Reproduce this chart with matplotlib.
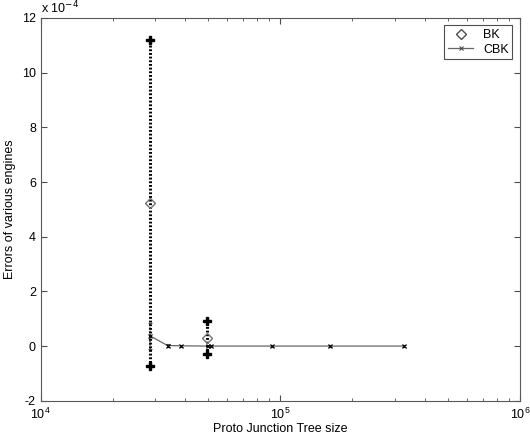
import numpy as np
import matplotlib
matplotlib.use('Agg')
from matplotlib import pyplot as plt
from matplotlib.lines import Line2D
from matplotlib.ticker import FixedLocator, FuncFormatter, LogLocator, NullFormatter

plt.rcParams['font.family'] = ['Liberation Sans', 'DejaVu Sans']

# Proto junction tree sizes and errors (in units of 1e-4)
bk_size = [28500, 49600]
bk_err = [5.23, 0.30]
bk_std = [5.97, 0.60]

cbk_size = [28500, 33800, 38300, 49900, 51500, 92500, 161000, 328000]
cbk_err = [0.38, 0.02, 0.01, 0.0, 0.0, 0.0, 0.0, 0.0]
cbk_std = [0.47, 0.04, 0.03, 0.03, 0.03, 0.03, 0.03, 0.03]

scale = 1e-4

fig = plt.figure(figsize=(5.3, 4.38), dpi=100)
ax = fig.add_axes([0.077, 0.085, 0.904, 0.874])

# BK: diamonds with thick dotted error bars
eb = ax.errorbar(bk_size, np.array(bk_err)*scale, yerr=np.array(bk_std)*scale,
                 fmt='D', mfc='none', mec='0.45', ms=5.5, ecolor='k',
                 elinewidth=2.2, capsize=0, zorder=3)
eb[2][0].set_linestyle((0, (0.6, 0.6)))
ax.plot(bk_size, (np.array(bk_err) + np.array(bk_std))*scale, 'P', color='k', ms=6, zorder=4)
ax.plot(bk_size, (np.array(bk_err) - np.array(bk_std))*scale, 'P', color='k', ms=6, zorder=4)

# CBK: line with x markers and small error bars
eb2 = ax.errorbar(cbk_size, np.array(cbk_err)*scale, yerr=np.array(cbk_std)*scale,
                  fmt='-x', color='0.4', mec='k', ms=3.5, mew=0.8, lw=0.9,
                  ecolor='0.3', elinewidth=1.2, capsize=1.5, zorder=2)
eb2[2][0].set_linestyle((0, (1, 1)))

ax.set_xscale('log')
ax.set_xlim(1e4, 1e6)
ax.set_ylim(-2*scale, 12*scale)
ax.yaxis.set_major_locator(FixedLocator(np.arange(-2, 13, 2)*scale))
ax.yaxis.set_major_formatter(FuncFormatter(lambda v, p: '%g' % round(v/scale, 6)))
ax.xaxis.set_minor_locator(LogLocator(base=10, subs=np.arange(2, 10)))
ax.xaxis.set_minor_formatter(NullFormatter())

ax.tick_params(which='both', direction='in', top=True, right=True, labelsize=9, color='0.3')
ax.tick_params(which='major', length=4)
ax.tick_params(which='minor', length=2)
ax.tick_params(axis='x', pad=4)
for s in ax.spines.values():
    s.set_color('0.35')
    s.set_linewidth(0.8)

ax.text(0.0, 1.005, r'x 10$^{-4}$', transform=ax.transAxes, fontsize=9, va='bottom', ha='left')

ax.set_xlabel('Proto Junction Tree size', fontsize=9, labelpad=1)
ax.set_ylabel('Errors of various engines', fontsize=9, labelpad=4)

handles = [Line2D([], [], ls='none', marker='D', mfc='none', mec='0.3', ms=5.5),
           Line2D([], [], color='0.4', lw=0.9, marker='x', mec='0.3', ms=3.5, mew=0.8)]
leg = ax.legend(handles, ['BK', 'CBK'], loc='upper right', fontsize=9, fancybox=False,
                framealpha=1, edgecolor='0.3', handlelength=2.0, borderaxespad=0.6,
                labelspacing=0.2, borderpad=0.3)
leg.get_frame().set_linewidth(0.8)

plt.savefig('out.png', dpi=100)
